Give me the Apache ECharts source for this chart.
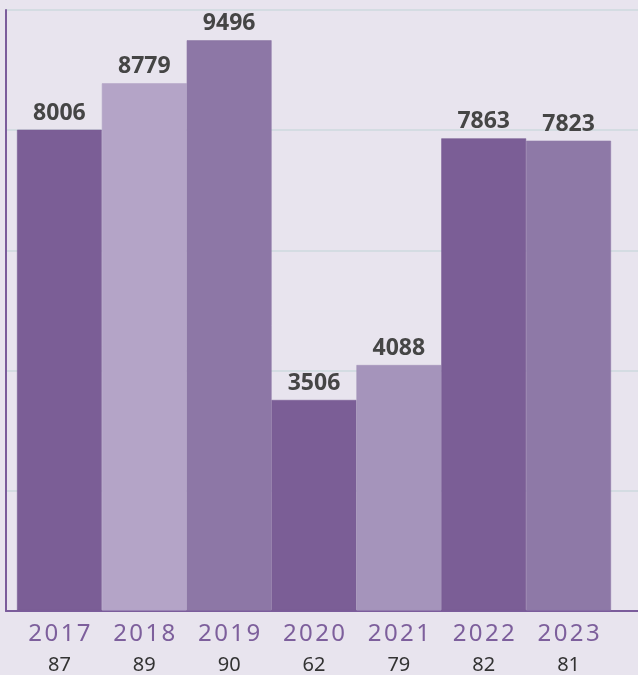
<!DOCTYPE html>
<html>
<head>
<meta charset="utf-8">
<script src="https://cdn.jsdelivr.net/npm/echarts@6/dist/echarts.min.js"></script>
<style>
  html, body { margin: 0; padding: 0; background: #e8e4ee; }
  #chart { width: 638px; height: 675px; }
</style>
</head>
<body>
<div id="chart"></div>
<script>
// data
const years = ['2017', '2018', '2019', '2020', '2021', '2022', '2023'];
const values = [8006, 8779, 9496, 3506, 4088, 7863, 7823];
const subValues = [87, 89, 90, 62, 79, 82, 81];
const yTicks = [0, 2000, 4000, 6000, 8000, 10000];

// one colour per bar
const barColors = ['#7b5e96', '#b4a4c7', '#8d77a6', '#7b5e96', '#a594bb', '#7b5e96', '#8e79a7'];

const chart = echarts.init(document.getElementById('chart'), null, { renderer: 'canvas' });

const yMax = yTicks[yTicks.length - 1];
const yStep = yTicks[1] - yTicks[0];

chart.setOption({
  backgroundColor: '#e8e4ee',
  animation: false,
  grid: [
    // frame: axis lines + split lines over the full plot
    { left: 6, right: 0, top: 10, bottom: 64 },
    // bars sit a bit inside the frame
    { left: 17, right: 27, top: 10, bottom: 64 }
  ],
  xAxis: [
    {
      gridIndex: 0, type: 'value', min: 0, max: 1,
      axisLine: { show: true, onZero: false, lineStyle: { color: '#7b5c9b', width: 2 } },
      axisTick: { show: false }, axisLabel: { show: false }, splitLine: { show: false }
    },
    {
      gridIndex: 1, type: 'category', data: years,
      axisLine: { show: false }, axisTick: { show: false },
      axisLabel: {
        margin: 9,
        interval: 0,
        formatter: function (v, i) {
          return '{y|' + v.split('').join('\u200a') + '}\n{n|' + subValues[i] + '}';
        },
        rich: {
          y: { fontFamily: 'Noto Sans', fontSize: 24, color: '#7d5f9c', lineHeight: 30 },
          n: { fontFamily: 'Noto Sans', fontSize: 20, color: '#333333', lineHeight: 31 }
        }
      }
    }
  ],
  yAxis: [
    {
      gridIndex: 0, type: 'value', min: 0, max: yMax, interval: yStep,
      axisLine: { show: true, lineStyle: { color: '#7b5c9b', width: 2 } },
      axisTick: { show: false }, axisLabel: { show: false },
      splitLine: { show: true, lineStyle: { color: '#d4dce2', width: 2 } }
    },
    {
      gridIndex: 1, type: 'value', min: 0, max: yMax, interval: yStep,
      axisLine: { show: false }, axisTick: { show: false }, axisLabel: { show: false },
      splitLine: { show: false }
    }
  ],
  series: [
    {
      type: 'bar',
      xAxisIndex: 1,
      yAxisIndex: 1,
      barWidth: '100%',
      barGap: '0%',
      data: values.map(function (v, i) {
        return { value: v, itemStyle: { color: barColors[i], borderColor: barColors[i], borderWidth: 0.6 } };
      }),
      label: {
        show: true,
        position: 'top',
        distance: 5,
        fontFamily: 'Noto Sans',
        fontSize: 23,
        fontWeight: 'bold',
        color: '#454545'
      }
    }
  ]
});
</script>
</body>
</html>
